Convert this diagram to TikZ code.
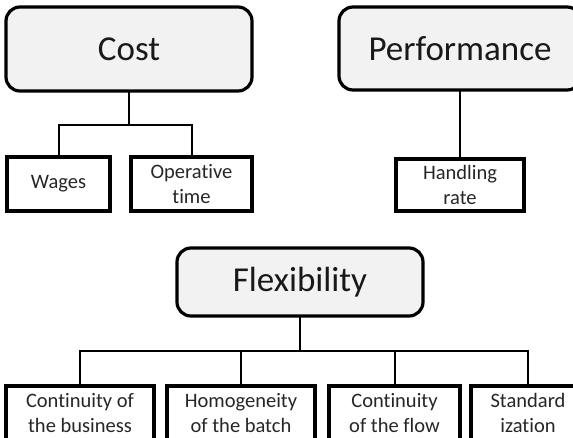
\documentclass[tikz,border=0pt]{standalone}
\usepackage{fontspec}
\setmainfont[Ligatures={NoCommon}]{Carlito}
\usetikzlibrary{positioning}

\begin{document}
\begin{tikzpicture}
  % Global styles (1 unit = 1pt, y grows downwards like the sketch)
  \tikzset{
    head/.style = {draw, line width=3.2pt, rounded corners=14pt, fill=black!5,
                   font=\fontsize{35}{40}\selectfont, text=black!90, inner sep=0pt, outer sep=0pt},
    leaf/.style = {draw, line width=3.2pt, align=center, inner sep=0pt, outer sep=0pt,
                   font=\fontsize{20.5}{25}\selectfont, text=black!85},
    wire/.style = {line width=2pt}
  }

  \begin{scope}[x=1pt,y=-1pt]
    \useasboundingbox (0,0) rectangle (573,437);

    % ========= Panel 1: Cost =========
    \node[head, minimum width=246pt, minimum height=84pt] (cost) at (129,49) {Cost};
    \node[leaf, minimum width=103pt, minimum height=54pt] (wages)  at (58.5,184) {Wages};
    \node[leaf, minimum width=121pt, minimum height=54pt] (optime) at (191.5,184) {Operative\\time};
    \coordinate (costbus) at (129,125);
    \draw[wire] (cost.south) -- (costbus);
    \draw[wire] (wages.north) |- (costbus) -| (optime.north);

    % ========= Panel 2: Performance =========
    \node[head, minimum width=242pt, minimum height=83pt] (perf) at (460,48.5) {Performance};
    \node[leaf, minimum width=128pt, minimum height=52pt] (hrate) at (460,185) {Handling\\rate};
    \draw[wire] (perf.south) -- (hrate.north);

    % ========= Panel 3: Flexibility =========
    \node[head, minimum width=246pt, minimum height=68pt] (flex) at (300,282) {Flexibility};
    % leaves hang below the page edge, as in the sketch
    \node[leaf, minimum width=148pt, minimum height=54pt] (business) at (80,413)  {Continuity of\\the business};
    \node[leaf, minimum width=148pt, minimum height=54pt] (batch)    at (241,413) {Homogeneity\\of the batch};
    \node[leaf, minimum width=131pt, minimum height=54pt] (flow)     at (394.5,413) {Continuity\\of the flow};
    \node[leaf, minimum width=114pt, minimum height=54pt] (stdz)     at (528,413) {Standard\\ization};
    \coordinate (flexbus) at (300,351);
    \draw[wire] (flex.south) -- (flexbus);
    \draw[wire] (business.north) |- (flexbus) -| (stdz.north);
    \draw[wire] (batch.north) -- (batch.north |- flexbus);
    \draw[wire] (flow.north) -- (flow.north |- flexbus);
  \end{scope}
\end{tikzpicture}
\end{document}
